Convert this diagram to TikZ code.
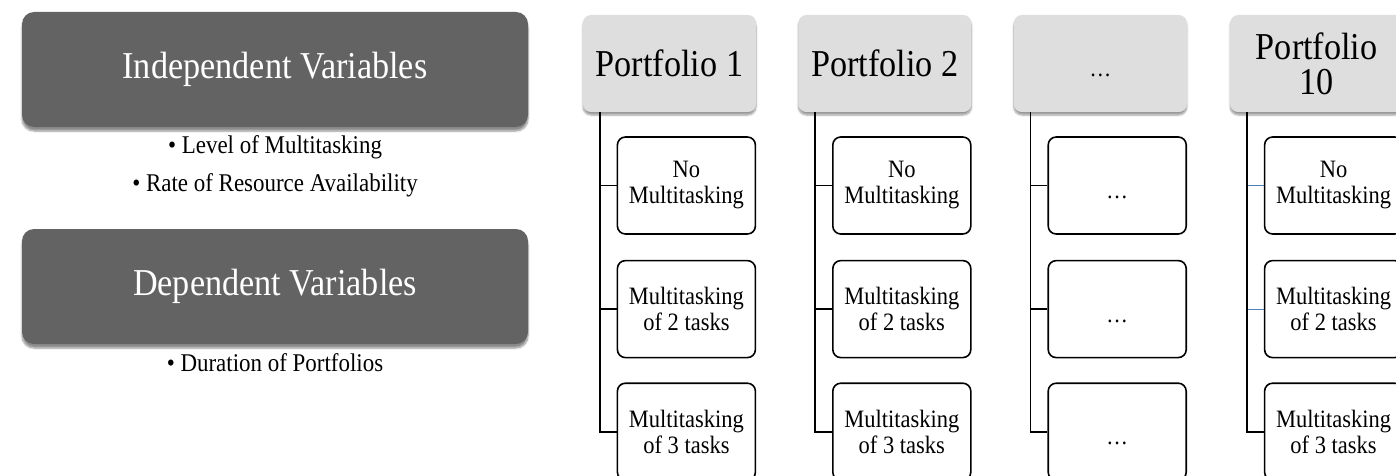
\documentclass[tikz,border=0pt]{standalone}
\usepackage{fontspec}
\setmainfont{Liberation Serif}[FakeStretch=0.9]
\usetikzlibrary{positioning,shadows.blur}
\definecolor{varfill}{HTML}{636363}
\definecolor{headfill}{HTML}{DEDEDE}
\definecolor{tickblue}{HTML}{4F81BD}

\begin{document}
\begin{tikzpicture}[x=1pt, y=-1pt,
  vars/.style={rounded corners=12pt, minimum width=506pt, minimum height=115pt, fill=varfill, text=white, font=\fontsize{38}{42}\selectfont, blur shadow={shadow xshift=0pt, shadow yshift=-4pt, shadow blur steps=6, shadow opacity=45}},
  items/.style={inner sep=0pt, align=center, font=\fontsize{25.5}{38}\selectfont},
  head/.style={rounded corners=8pt, minimum width=173pt, minimum height=97pt, fill=headfill, align=center, font=\fontsize{38}{35}\selectfont, blur shadow={shadow xshift=0pt, shadow yshift=-3pt, shadow blur steps=5, shadow opacity=40}},
  level/.style={draw, line width=1.6pt, rounded corners=8pt, minimum width=138pt, minimum height=97pt, fill=white, align=center, font=\fontsize{25}{26}\selectfont},
  more/.style={text height=30pt, text depth=4pt, font=\fontsize{24}{26}\selectfont},
  link/.style={line width=1.6pt}
]
  \clip (0,0) rectangle (1396,476);

  % variables on the left
  \node[vars] (iv) at (275,69.5) {Independent Variables};
  \node[items, below=8pt of iv] (ivlist) {\textbullet~Level of Multitasking\\\textbullet~Rate of Resource Availability};
  \node[vars] (dv) at (275,286.5) {Dependent Variables};
  \node[items, below=9pt of dv] (dvlist) {\textbullet~Duration of Portfolios};

  % portfolio headers
  \node[head] (p1) at (669.5,63.5) {Portfolio 1};
  \node[head, right=42pt of p1] (p2) {Portfolio 2};
  \node[head, right=42pt of p2, more] (p3) {\ldots};
  \node[head, right=43pt of p3] (p4) {Portfolio\\10};

  % levels of multitasking per portfolio
  \node[level, below=24pt of p1.south east, anchor=north east] (p1a) {No\\Multitasking};
  \node[level, below=25pt of p1a] (p1b) {Multitasking\\of 2 tasks};
  \node[level, below=24pt of p1b] (p1c) {Multitasking\\of 3 tasks};

  \node[level, below=24pt of p2.south east, anchor=north east] (p2a) {No\\Multitasking};
  \node[level, below=25pt of p2a] (p2b) {Multitasking\\of 2 tasks};
  \node[level, below=24pt of p2b] (p2c) {Multitasking\\of 3 tasks};

  \node[level, more, below=24pt of p3.south east, anchor=north east] (p3a) {\ldots};
  \node[level, more, below=25pt of p3a] (p3b) {\ldots};
  \node[level, more, below=24pt of p3b] (p3c) {\ldots};

  \node[level, below=24pt of p4.south east, anchor=north east] (p4a) {No\\Multitasking};
  \node[level, below=25pt of p4a] (p4b) {Multitasking\\of 2 tasks};
  \node[level, below=24pt of p4b] (p4c) {Multitasking\\of 3 tasks};

  % tree lines
  \foreach \p in {p1,p2,p3} {
    \draw[link] ([xshift=17pt]\p.south west) |- (\p c.west);
    \draw[link] ([xshift=17pt]\p.south west) |- (\p b.west);
    \draw[link] ([xshift=17pt]\p.south west) |- (\p a.west);
  }
  \draw[link] ([xshift=17pt]p4.south west) |- (p4c.west);
  \draw[line width=1pt, tickblue] ([xshift=17pt]p4.south west) |- (p4b.west);
  \draw[line width=1pt, tickblue] ([xshift=17pt]p4.south west) |- (p4a.west);
  \draw[link] ([xshift=17pt]p4.south west) -- ([xshift=17pt]p4.south west |- p4c.west);
\end{tikzpicture}
\end{document}
